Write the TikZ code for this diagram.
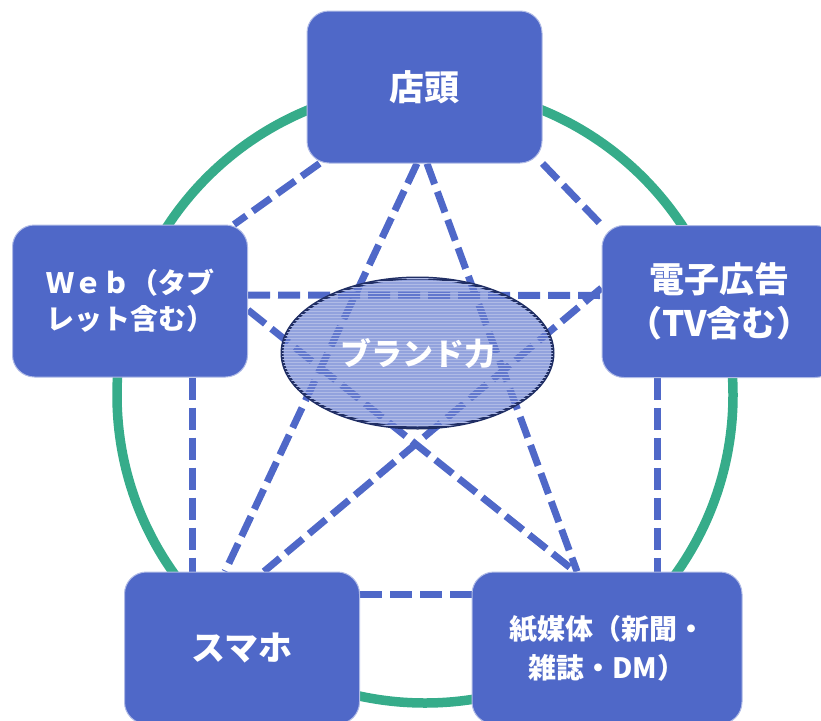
\documentclass[tikz,border=0pt]{standalone}
\usepackage{fontspec}
\setmainfont{Noto Sans CJK JP}
\usetikzlibrary{shapes.geometric,patterns,backgrounds}
\definecolor{boxblue}{RGB}{79,104,200}
\definecolor{ringgreen}{RGB}{54,172,138}
\definecolor{ovalline}{RGB}{32,46,100}
\definecolor{ovalfill}{RGB}{104,126,208}
\tikzset{
	media/.style={draw=boxblue!45!white, line width=1pt, fill=boxblue, rounded corners=22pt, minimum width=235pt, minimum height=152pt, text=white, align=center},
	link/.style={draw=boxblue, line width=7pt, dash pattern=on 22pt off 8pt},
}

\begin{document}
\begin{tikzpicture}[x=1pt,y=-1pt]
			\useasboundingbox (0,0) rectangle (821,720);
			\node[media, font=\bfseries\fontsize{35}{42}\selectfont] (tento) at (424.5,87) {店頭};
			\node[media, font=\bfseries\fontsize{28}{36}\selectfont] (web) at (130,301) {Ｗｅｂ（タブ\\レット含む）};
			\node[media, font=\bfseries\fontsize{35}{44}\selectfont] (denshi) at (719.5,301.5) {電子広告\\（TV含む）};
			\node[media, font=\bfseries\fontsize{34}{40}\selectfont] (sumaho) at (242,648) {スマホ};
			\node[media, minimum width=270pt, font=\bfseries\fontsize{28}{39}\selectfont] (kami) at (607,648) {紙媒体（新聞・\\雑誌・DM）};
			\node[ellipse, draw=ovalline, line width=3pt, fill=ovalfill, fill opacity=.72, text opacity=1, text=white, minimum width=271pt, minimum height=150pt, inner sep=0pt, font=\bfseries\fontsize{31}{36}\selectfont, postaction={pattern=horizontal lines, pattern color=white!55!boxblue}] (brand) at (417.5,353) {ブランド力};
			\begin{scope}[on background layer]
				% ring
				\draw[ringgreen, line width=9.5pt] (425,395) circle[radius=308pt];
				% outer pentagon
				\draw[link] ([xshift=13pt]tento.south west) -- ([xshift=-14pt]web.north east);
				\draw[link] (tento.south east) -- (denshi.north west);
				\draw[link] ([xshift=62pt]web.south) -- ([xshift=-50pt]sumaho.north);
				\draw[link] ([xshift=-62.5pt]denshi.south) -- ([xshift=50pt]kami.north);
				\draw[link] ([yshift=54pt]sumaho.east) -- ([yshift=54pt]kami.west);
				% star
				\draw[link] ([yshift=6pt]web.east) -- ([yshift=6pt]denshi.west);
				\draw[link] ([xshift=-7.5pt]tento.south) -- ([xshift=-17pt]sumaho.north);
				\draw[link] ([xshift=2.5pt]tento.south) -- ([xshift=-30pt]kami.north);
				\draw[link] ([yshift=-9pt]web.east) -- ([xshift=-32pt]kami.north);
				\draw[link] ([yshift=13.5pt]denshi.west) -- ([xshift=22pt]sumaho.north);
			\end{scope}
		\end{tikzpicture}
\end{document}
